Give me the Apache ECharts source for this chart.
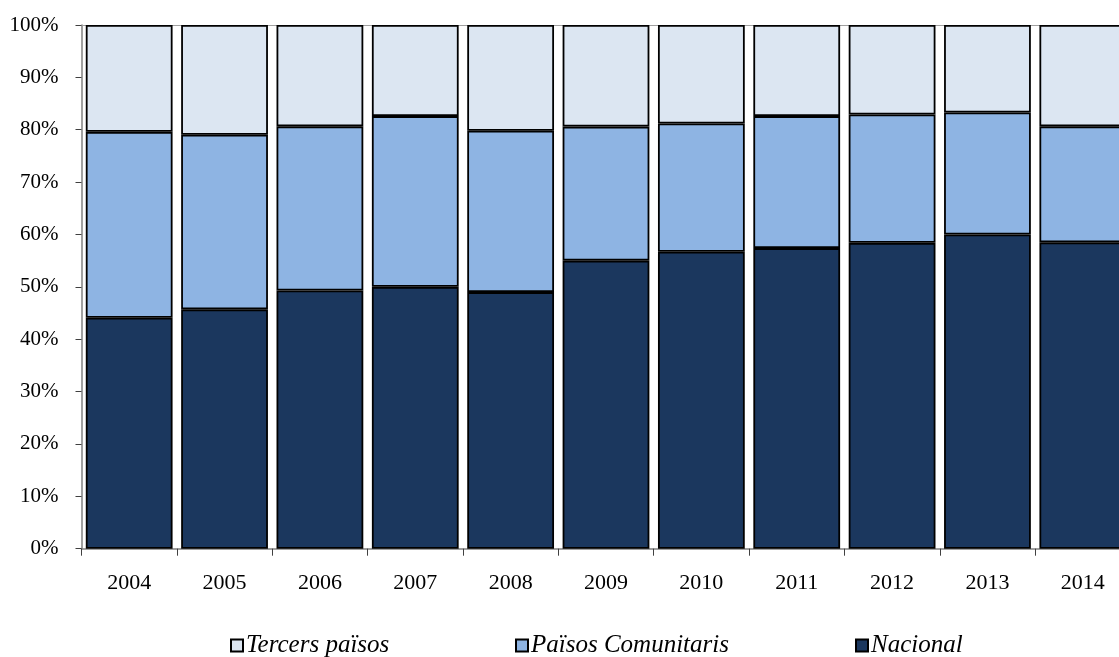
<!DOCTYPE html>
<html>
<head>
<meta charset="utf-8">
<script src="https://cdn.jsdelivr.net/npm/echarts@6/dist/echarts.min.js"></script>
<style>
html,body{margin:0;padding:0;background:#fff;}
#chart{width:1119px;height:657px;}
</style>
</head>
<body>
<div id="chart"></div>
<script>
var years = ['2004','2005','2006','2007','2008','2009','2010','2011','2012','2013','2014'];
var nacional    = [44.1, 45.7, 49.3, 50.0, 49.0, 55.0, 56.7, 57.4, 58.4, 60.0, 58.5];
var comunitaris = [35.5, 33.35, 31.35, 32.6, 30.8, 25.6, 24.5, 25.2, 24.5, 23.3, 22.15];
var tercers     = [20.4, 20.95, 19.35, 17.4, 20.2, 19.4, 18.8, 17.4, 17.1, 16.7, 19.35];

var FONT = '"Liberation Serif", "DejaVu Serif", serif';
var chart = echarts.init(document.getElementById('chart'));

function barSeries(name, data, color) {
  return {
    name: name, type: 'bar', stack: 'total', data: data,
    barCategoryGap: '9%',
    itemStyle: { color: color, borderColor: '#000', borderWidth: 1.8 },
    emphasis: { disabled: true }
  };
}

function legendItem(name, left) {
  return {
    data: [name], left: left, top: 633, orient: 'horizontal',
    itemWidth: 12, itemHeight: 12, itemGap: 4, padding: 0,
    icon: 'rect',
    textStyle: { fontFamily: FONT, fontStyle: 'italic', fontSize: 25, color: '#000', padding: [0,0,0,-2] },
    selectedMode: false
  };
}

chart.setOption({
  animation: false,
  backgroundColor: '#fff',
  grid: { left: 81.5, top: 25, right: -11.5, bottom: 108.3, containLabel: false, outerBoundsMode: 'none' },
  legend: [
    legendItem('Tercers països', 230),
    legendItem('Països Comunitaris', 515),
    legendItem('Nacional', 855)
  ],
  xAxis: [{
    type: 'category', data: years,
    axisLine: { lineStyle: { color: '#808080', width: 1.5 } },
    axisTick: { show: true, alignWithLabel: false, length: 7, lineStyle: { color: '#404040' } },
    axisLabel: { fontFamily: FONT, fontSize: 22, color: '#000', margin: 24 }
  }, {
    type: 'category', data: years, position: 'top',
    axisLine: { show: true, lineStyle: { color: '#a0a0a0', width: 1 } },
    axisTick: { show: false }, axisLabel: { show: false }
  }],
  yAxis: {
    type: 'value', min: 0, max: 100, interval: 10,
    axisLine: { show: true, lineStyle: { color: '#808080', width: 1.5 } },
    axisTick: { show: true, length: 6, lineStyle: { color: '#404040' } },
    splitLine: { show: false },
    axisLabel: { fontFamily: FONT, fontSize: 21, color: '#000', margin: 23,
      formatter: function (v) { return v + '%'; } }
  },
  series: [
    barSeries('Nacional', nacional, '#1B375E'),
    barSeries('Països Comunitaris', comunitaris, '#8EB4E3'),
    barSeries('Tercers països', tercers, '#DCE6F2')
  ]
});
</script>
</body>
</html>
